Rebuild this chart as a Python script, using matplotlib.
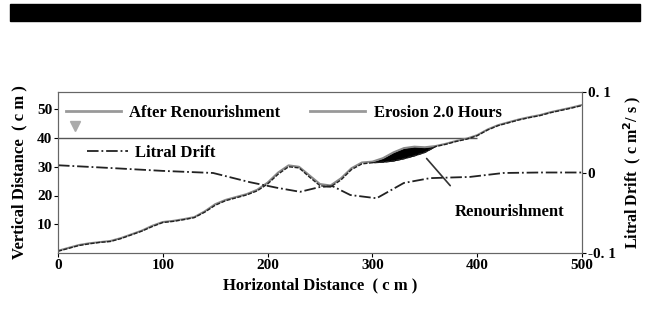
import matplotlib
matplotlib.use("Agg")
import matplotlib.pyplot as plt
from matplotlib.lines import Line2D
from matplotlib.patches import Rectangle
import numpy as np

plt.rcParams['font.family'] = ['Liberation Serif', 'DejaVu Serif']
plt.rcParams['font.weight'] = 'bold'

# beach profile (horizontal distance cm, vertical distance cm)
x_prof = [0, 10, 20, 30, 40, 50, 60, 70, 80, 90, 100, 110, 120, 130, 140, 150, 160, 170,
          180, 190, 200, 210, 220, 230, 240, 250, 260, 270, 280, 290, 300, 310, 320, 330,
          340, 350, 360, 370, 380, 390, 400, 410, 420, 430, 440, 450, 460, 470, 480, 490, 500]
y_renourish = [0.8, 1.8, 2.8, 3.4, 3.8, 4.2, 5.2, 6.5, 7.8, 9.5, 10.8, 11.2, 11.8, 12.5, 14.5,
               17.0, 18.5, 19.5, 20.5, 22.0, 24.5, 28.0, 30.5, 30.0, 27.0, 24.0, 23.5, 26.0,
               29.5, 31.5, 31.8, 33.0, 35.0, 36.5, 37.0, 36.8, 37.2, 38.0, 39.0, 39.8, 41.0,
               43.0, 44.5, 45.5, 46.5, 47.3, 48.0, 49.0, 49.8, 50.6, 51.5]
y_erosion = [0.6, 1.6, 2.6, 3.2, 3.7, 4.0, 5.0, 6.3, 7.6, 9.2, 10.6, 11.0, 11.6, 12.3, 14.2,
             16.6, 18.2, 19.2, 20.2, 21.6, 24.0, 27.4, 30.0, 29.6, 26.4, 23.4, 23.0, 25.4,
             29.0, 31.0, 31.4, 31.6, 32.0, 32.8, 33.8, 35.0, 37.0, 37.8, 38.8, 39.6, 40.8,
             42.8, 44.3, 45.3, 46.3, 47.1, 47.8, 48.8, 49.6, 50.4, 51.3]

# littoral drift (cm^2/s)
x_drift = [0, 50, 100, 148, 183, 209, 231, 250, 262, 279, 304, 330, 355, 393, 425, 460, 500]
q_drift = [0.009, 0.0056, 0.002, -0.0006, -0.012, -0.019, -0.024, -0.018, -0.017, -0.028,
           -0.032, -0.013, -0.007, -0.0055, -0.0006, 0.0, 0.0]

water_level = 40
water_end = 400

fig = plt.figure(figsize=(6.52, 3.12), dpi=100)
fig.patches.append(Rectangle((10 / 652, 1 - 21 / 312), 630 / 652, 17 / 312,
                             transform=fig.transFigure, color='black'))

ax = fig.add_axes([58 / 652, 1 - 253 / 312, 524 / 652, 161 / 312])
ax2 = ax.twinx()

ax.hlines(water_level, 0, water_end, color='#555555', lw=1.0)
ax.plot([16], [44], marker='v', color='#aaaaaa', ms=7, ls='none')

xs = np.array(x_prof)
yr = np.array(y_renourish)
ye = np.array(y_erosion)
sel = (xs >= 300) & (xs <= 360)
ax.fill_between(xs[sel], ye[sel], yr[sel], color='black', lw=0)
ax.plot(x_prof, y_renourish, color='#888888', lw=1.4)
ax.plot(x_prof, y_erosion, color='#222222', lw=1.0, ls=(0, (3, 1)))

ax2.plot(x_drift, q_drift, color='#222222', lw=1.3, ls='-.')

ax.set_xlim(0, 500)
ax.set_ylim(0, 56)
ax2.set_ylim(-0.1, 0.1)
ax.set_xticks([0, 100, 200, 300, 400, 500])
ax.set_yticks([10, 20, 30, 40, 50])
ax2.set_yticks([-0.1, 0, 0.1])
ax2.set_yticklabels(['-0. 1', '0', '0. 1'])
for a in (ax, ax2):
    a.tick_params(labelsize=11, length=3, width=0.8, pad=1)
    for s in a.spines.values():
        s.set_color('#666666')

ax.set_xlabel('Horizontal Distance  ( c m )', fontsize=12, fontweight='bold', labelpad=4)
ax.set_ylabel('Vertical Distance  ( c m )', fontsize=12, fontweight='bold', labelpad=7)
ax2.set_ylabel('Litral Drift  ( c m$^2$/ s )', fontsize=11.5, fontweight='bold', labelpad=4)

ax.annotate('', xy=(350, 33.6), xytext=(376, 22.7),
            arrowprops=dict(arrowstyle='-', color='#333333', lw=1.2))
ax.text(431, 14.3, 'Renourishment', fontsize=12, fontweight='bold', ha='center', va='center')

h_ren = Line2D([], [], color='#999999', lw=2)
h_ero = Line2D([], [], color='#999999', lw=2)
h_drift = Line2D([], [], color='#222222', lw=1.3, ls='-.')
leg1 = ax.legend([h_ren, h_ero], ['After Renourishment', 'Erosion 2.0 Hours'], ncol=2,
                 loc='center left', bbox_to_anchor=(0.015, 0.87), frameon=False,
                 fontsize=12, handlelength=3.3, handletextpad=0.5, columnspacing=1.8,
                 borderaxespad=0, borderpad=0)
ax.add_artist(leg1)
ax.legend([h_drift], ['Litral Drift'], loc='center left', bbox_to_anchor=(0.055, 0.62),
          frameon=False, fontsize=12, handlelength=2.5, handletextpad=0.4,
          borderaxespad=0, borderpad=0)

fig.savefig('out.png', dpi=100)
